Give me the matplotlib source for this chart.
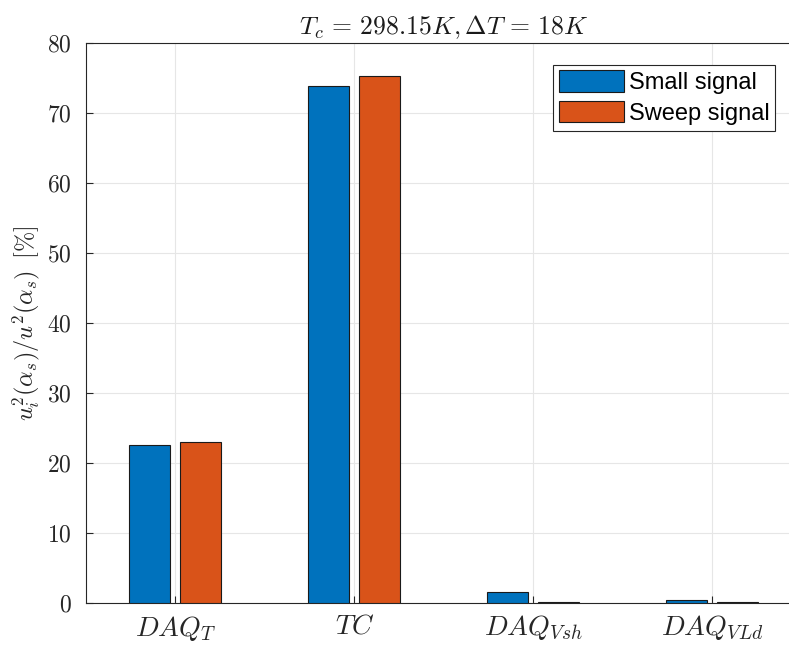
import matplotlib
matplotlib.use("Agg")
import matplotlib.pyplot as plt
import numpy as np

plt.rcParams['mathtext.fontset'] = 'cm'
plt.rcParams['font.family'] = ['Liberation Sans', 'DejaVu Sans']

categories = [r'$DAQ_T$', r'$TC$', r'$DAQ_{Vsh}$', r'$DAQ_{VLd}$']
small_signal = [22.5, 73.8, 1.6, 0.35]
sweep_signal = [22.9, 75.2, 0.08, 0.05]
yticks = [0, 10, 20, 30, 40, 50, 60, 70, 80]

fig = plt.figure(figsize=(7.89, 6.47), dpi=100)
ax = fig.add_axes([86.0 / 789, 44.3 / 647, 715.6 / 789, 560.0 / 647])

x = np.arange(1, len(categories) + 1)
w = 0.229
off = 0.1425
ax.bar(x - off, small_signal, w, color='#0072BD', edgecolor='#1a1a1a', linewidth=0.8, label='Small signal', zorder=3)
ax.bar(x + off, sweep_signal, w, color='#D95319', edgecolor='#1a1a1a', linewidth=0.8, label='Sweep signal', zorder=3)

ax.set_xlim(0.5, 4.5)
ax.set_ylim(0, 80)
ax.set_xticks(x)
ax.set_xticklabels(categories, fontsize=20)
ax.set_yticks(yticks)
ax.set_yticklabels([rf'${v}$' for v in yticks], fontsize=17)
ax.tick_params(direction='in', length=5, width=0.8, colors='#262626')
ax.tick_params(axis='y', pad=10)
ax.tick_params(axis='x', pad=8)
for s in ax.spines.values():
    s.set_color('#262626')
    s.set_linewidth(0.8)
ax.grid(True, color='#e6e6e6', linewidth=0.8, zorder=0)
ax.set_axisbelow(True)

ax.set_ylabel(r'$u_i^2(\alpha_s)/u^2(\alpha_s)\;\;[\%]$', fontsize=17.5, color='#262626', labelpad=4)
ax.set_title(r'$T_c\,=\,298.15K, \Delta T\,=\,18K$', fontsize=18.5, color='#1a1a1a', pad=6)

leg = ax.legend(loc='upper right', bbox_to_anchor=(0.9635, 0.961), fontsize=17,
                fancybox=False, framealpha=1, edgecolor='#262626',
                handlelength=2.75, handleheight=1.0, handletextpad=0.2,
                borderpad=0.25, labelspacing=0.3, borderaxespad=0)
leg.get_frame().set_linewidth(0.8)

fig.savefig('out.png', dpi=100)
